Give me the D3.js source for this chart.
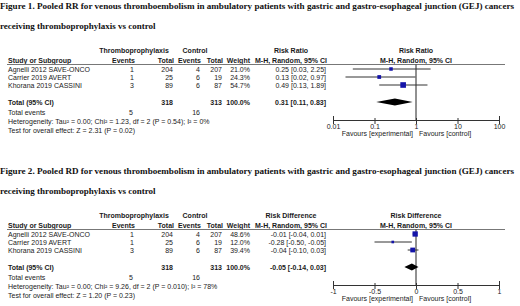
<!DOCTYPE html>
<html>
<head>
<meta charset="utf-8">
<script src="https://cdn.jsdelivr.net/npm/d3@7"></script>
<style>
  body { margin:0; background:#fff; }
  text { font-family: "Liberation Sans", Arial, sans-serif; font-size:7px; fill:#1a1a1a; }
  .title { font-family: "Liberation Serif", "Times New Roman", serif; font-weight:bold; font-size:9px; fill:#111; }
  .bold { font-weight:bold; }
</style>
</head>
<body>
<svg id="chart"></svg>
<script>
var studies = ["Agnelli 2012 SAVE-ONCO", "Carrier 2019 AVERT", "Khorana 2019 CASSINI"];
var tpEvents = [1, 1, 3];
var tpTotal = [204, 25, 89];
var ctrlEvents = [4, 6, 6];
var ctrlTotal = [207, 19, 87];

var rrWeight = [21.0, 24.3, 54.7];
var rrEst = [0.25, 0.13, 0.49];
var rrLow = [0.03, 0.02, 0.13];
var rrHigh = [2.25, 0.97, 1.89];
var rrPooled = [0.31, 0.11, 0.83];
var rrTicks = [0.01, 0.1, 1, 10, 100];

var rdWeight = [48.6, 12.0, 39.4];
var rdEst = [-0.01, -0.28, -0.04];
var rdLow = [-0.04, -0.50, -0.10];
var rdHigh = [0.01, -0.05, 0.03];
var rdPooled = [-0.05, -0.14, 0.03];
var rdTicks = [-1, -0.5, 0, 0.5, 1];

var totals = {tp: 318, ctrl: 313, tpEvents: 5, ctrlEvents: 16};

var svg = d3.select("svg#chart")
            .attr("width", 520)
            .attr("height", 306);

var fig1 = {
  title1: "Figure 1. Pooled RR for venous thromboembolism in ambulatory patients with gastric and gastro-esophageal junction (GEJ) cancers",
  title2: "receiving thromboprophylaxis vs control",
  measure: "Risk Ratio",
  est: rrEst, low: rrLow, high: rrHigh, weight: rrWeight, pooled: rrPooled,
  ticks: rrTicks,
  scale: d3.scaleLog().domain([0.01, 100]).range([333, 499]),
  het: "Heterogeneity: Tau\u00b2 = 0.00; Chi\u00b2 = 1.23, df = 2 (P = 0.54); I\u00b2 = 0%",
  test: "Test for overall effect: Z = 2.31 (P = 0.02)"
};
var fig2 = {
  title1: "Figure 2. Pooled RD for venous thromboembolism in ambulatory patients with gastric and gastro-esophageal junction (GEJ) cancers",
  title2: "receiving thromboprophylaxis vs control",
  measure: "Risk Difference",
  est: rdEst, low: rdLow, high: rdHigh, weight: rdWeight, pooled: rdPooled,
  ticks: rdTicks,
  scale: d3.scaleLinear().domain([-1, 1]).range([333, 499]),
  het: "Heterogeneity: Tau\u00b2 = 0.00; Chi\u00b2 = 9.26, df = 2 (P = 0.010); I\u00b2 = 78%",
  test: "Test for overall effect: Z = 1.20 (P = 0.23)"
};

makeForest(fig1, 0);
makeForest(fig2, 165);

function fmt(v) { return v.toFixed(2); }
function ci(a, b, c) { return fmt(a) + " [" + fmt(b) + ", " + fmt(c) + "]"; }

function makeForest(f, y0) {
  var g = svg.append("g")
             .attr("transform", "translate(0," + y0 + ")");
  var xScale = f.scale;
  var size = d3.scaleSqrt().domain([0, 100]).range([0, 7.6]);
  var rowY = function(i){ return 69 + 8 * i; };
  var base = 2.5;

  g.append("text").classed("title", true)
   .attr("x", 0).attr("y", 9)
   .attr("textLength", 514).attr("lengthAdjust", "spacingAndGlyphs")
   .text(f.title1);
  g.append("text").classed("title", true)
   .attr("x", 0).attr("y", 29)
   .text(f.title2);

  // headers
  var head = [
    {t: "Thromboprophylaxis", x: 134, y: 50, a: "middle"},
    {t: "Control", x: 195, y: 50, a: "middle"},
    {t: f.measure, x: 291, y: 50, a: "middle"},
    {t: f.measure, x: 416, y: 50, a: "middle"},
    {t: "Study or Subgroup", x: 8, y: 60, a: "start"},
    {t: "Events", x: 135, y: 60, a: "end"},
    {t: "Total", x: 174, y: 60, a: "end"},
    {t: "Events", x: 201, y: 60, a: "end"},
    {t: "Total", x: 223, y: 60, a: "end"},
    {t: "Weight", x: 250, y: 60, a: "end"},
    {t: "M-H, Random, 95% CI", x: 291, y: 60, a: "middle"},
    {t: "M-H, Random, 95% CI", x: 416, y: 60, a: "middle"}
  ];
  g.selectAll("text.head")
   .data(head)
   .enter()
   .append("text")
   .classed("head bold", true)
   .attr("x", function(d){ return d.x; })
   .attr("y", function(d){ return d.y + base; })
   .attr("text-anchor", function(d){ return d.a; })
   .text(function(d){ return d.t; });

  g.append("line")
   .attr("x1", 7).attr("x2", 505)
   .attr("y1", 64.5).attr("y2", 64.5)
   .attr("stroke", "#777").attr("stroke-width", 1);

  // study rows
  var rows = g.selectAll("g.row")
              .data(studies)
              .enter()
              .append("g")
              .classed("row", true)
              .attr("transform", function(d, i){ return "translate(0," + (rowY(i) + base) + ")"; });

  rows.append("text").attr("x", 8).text(function(d){ return d; });
  rows.append("text").attr("x", 134).attr("text-anchor", "end")
      .text(function(d, i){ return tpEvents[i]; });
  rows.append("text").attr("x", 173).attr("text-anchor", "end")
      .text(function(d, i){ return tpTotal[i]; });
  rows.append("text").attr("x", 200).attr("text-anchor", "end")
      .text(function(d, i){ return ctrlEvents[i]; });
  rows.append("text").attr("x", 222).attr("text-anchor", "end")
      .text(function(d, i){ return ctrlTotal[i]; });
  rows.append("text").attr("x", 250).attr("text-anchor", "end")
      .text(function(d, i){ return f.weight[i].toFixed(1) + "%"; });
  rows.append("text").attr("x", 326).attr("text-anchor", "end")
      .text(function(d, i){ return ci(f.est[i], f.low[i], f.high[i]); });

  // totals
  var totY = 102 + base;
  g.append("text").classed("bold", true).attr("x", 8).attr("y", totY).text("Total (95% CI)");
  g.append("text").classed("bold", true).attr("x", 173).attr("y", totY).attr("text-anchor", "end").text(totals.tp);
  g.append("text").classed("bold", true).attr("x", 222).attr("y", totY).attr("text-anchor", "end").text(totals.ctrl);
  g.append("text").classed("bold", true).attr("x", 250).attr("y", totY).attr("text-anchor", "end").text("100.0%");
  g.append("text").classed("bold", true).attr("x", 326).attr("y", totY).attr("text-anchor", "end")
   .text(ci(f.pooled[0], f.pooled[1], f.pooled[2]));

  g.append("text").attr("x", 8).attr("y", 112 + base).text("Total events");
  g.append("text").attr("x", 133).attr("y", 112 + base).attr("text-anchor", "end").text(totals.tpEvents);
  g.append("text").attr("x", 200).attr("y", 112 + base).attr("text-anchor", "end").text(totals.ctrlEvents);
  g.append("text").attr("x", 8).attr("y", 121 + base).text(f.het);
  g.append("text").attr("x", 8).attr("y", 130 + base).text(f.test);

  // plot
  var axisY = 120;
  var nullX = xScale(f.ticks[2]);
  g.append("line")
   .attr("x1", nullX).attr("x2", nullX)
   .attr("y1", 64.5).attr("y2", axisY)
   .attr("stroke", "#222").attr("stroke-width", 1);

  var marks = g.selectAll("g.mark")
               .data(studies)
               .enter()
               .append("g")
               .classed("mark", true);
  marks.append("line")
       .attr("x1", function(d, i){ return xScale(f.low[i]); })
       .attr("x2", function(d, i){ return xScale(f.high[i]); })
       .attr("y1", function(d, i){ return rowY(i); })
       .attr("y2", function(d, i){ return rowY(i); })
       .attr("stroke", "#333").attr("stroke-width", 1);
  marks.append("rect")
       .attr("x", function(d, i){ return xScale(f.est[i]) - size(f.weight[i]) / 2; })
       .attr("y", function(d, i){ return rowY(i) - size(f.weight[i]) / 2; })
       .attr("width", function(d, i){ return size(f.weight[i]); })
       .attr("height", function(d, i){ return size(f.weight[i]); })
       .attr("fill", "#1414a8");

  var dy = 102;
  g.append("path")
   .attr("d", "M" + xScale(f.pooled[1]) + "," + dy +
              "L" + xScale(f.pooled[0]) + "," + (dy - 3.5) +
              "L" + xScale(f.pooled[2]) + "," + dy +
              "L" + xScale(f.pooled[0]) + "," + (dy + 3.5) + "Z")
   .attr("fill", "#000");

  var xAxis = d3.axisBottom(xScale)
                .tickValues(f.ticks)
                .tickSize(-4)
                .tickFormat(function(v){ return String(v); });
  var ax = g.append("g")
            .classed("xAxis", true)
            .attr("transform", "translate(0," + axisY + ")")
            .call(xAxis);
  ax.attr("font-family", null).attr("font-size", null);
  ax.select(".domain").attr("stroke", "#333");
  ax.selectAll(".tick line").attr("stroke", "#333").attr("y1", -2).attr("y2", 4);
  ax.selectAll(".tick text").attr("y", 4);

  g.append("text").attr("x", nullX - 3).attr("y", 133 + base).attr("text-anchor", "end").text("Favours [experimental]");
  g.append("text").attr("x", nullX + 3).attr("y", 133 + base).text("Favours [control]");
}
</script>
</body>
</html>
